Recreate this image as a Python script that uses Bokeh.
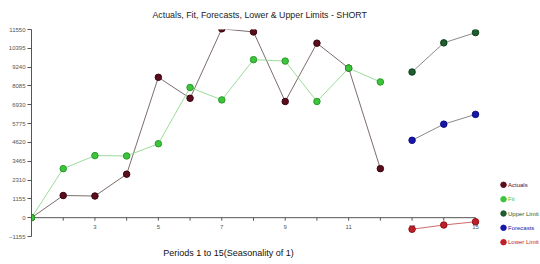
from bokeh.plotting import figure
from bokeh.models import Range1d, FixedTicker, Title
from bokeh.core.properties import value
from bokeh.embed import file_html
from bokeh.resources import INLINE

# ---- data ----
periods_actual = [1, 2, 3, 4, 5, 6, 7, 8, 9, 10, 11, 12]
actuals = [0, 1360, 1330, 2670, 8615, 7330, 11590, 11400, 7130, 10710, 9180, 3010]
fit = [0, 3010, 3810, 3790, 4540, 7990, 7230, 9700, 9610, 7130, 9180, 8330]
periods_fc = [13, 14, 15]
upper = [8940, 10730, 11360]
forecasts = [4750, 5740, 6340]
lower = [-710, -450, -250]
y_ticks = [-1155, 0, 1155, 2310, 3465, 4620, 5775, 6930, 8085, 9240, 10395, 11550]
x_ticks = list(range(1, 16))
x_labels = ["", "", "3", "", "5", "", "7", "", "9", "", "11", "", "13", "", "15"]
legend_names = ["Actuals", "Fit", "Upper Limit", "Forecasts", "Lower Limit"]

FONT = "Liberation Sans"
W, H = 540, 264
LEFT, TOP = 31, 29
PX_X = 444 / 14.0          # pixels per period
PX_Y = 207 / 12705.0       # pixels per unit value

def xd(px):  # screen x -> data
    return 1 + (px - LEFT) / PX_X

def yd(py):  # screen y -> data
    return 11550 - (py - TOP) / PX_Y

x_end = xd(W)
y_start = yd(H)

p = figure(width=W, height=H, output_backend="svg", toolbar_location=None,
           x_range=Range1d(1, x_end), y_range=Range1d(y_start, 11550),
           x_axis_type=None, min_border_left=LEFT, min_border_right=0,
           min_border_top=TOP, min_border_bottom=0)
p.outline_line_color = None
p.grid.visible = False
p.background_fill_color = "white"
p.border_fill_color = "white"

# title
p.title = Title(text="Actuals, Fit, Forecasts, Lower & Upper Limits - SHORT",
                align="left", offset=121, text_font=FONT, text_font_size="8.8px",
                text_font_style="normal", text_color="#222222", standoff=16,
                vertical_align="top")

# y axis
ya = p.yaxis[0]
ya.ticker = FixedTicker(ticks=y_ticks)
ya.bounds = (-1155, 11550)
ya.major_tick_out = 4
ya.major_tick_in = 0
ya.minor_tick_out = 0
ya.minor_tick_in = 0
ya.axis_line_color = "#555555"
ya.major_tick_line_color = "#555555"
ya.major_label_text_font = FONT
ya.major_label_text_font_size = "6px"
ya.major_label_text_color = "#555555"
ya.major_label_standoff = 2

# x axis drawn at y = 0
p.segment(x0=[1], y0=[0], x1=[15], y1=[0], line_color="#555555", line_width=1)
p.segment(x0=x_ticks[1:], y0=[0] * 14, x1=x_ticks[1:], y1=[yd(218 + 3) - yd(218)] * 14,
          line_color="#555555", line_width=1)
p.text(x=x_ticks, y=[yd(226)] * len(x_ticks), text=x_labels, text_align="center",
       text_baseline="middle", text_font=value(FONT), text_font_size="6px",
       text_color="#555555")

# x axis label
p.text(x=[xd(228)], y=[yd(252.5)], text=["Periods 1 to 15(Seasonality of 1)"],
       text_align="center", text_baseline="middle", text_font=value(FONT),
       text_font_size="9px", text_color="#111111")

# series
c_act, c_fit, c_up, c_fc, c_lo = "#5a0d1c", "#3cc43c", "#1e5e2e", "#1818a8", "#c01f28"

p.line(periods_actual, actuals, line_color="#6e5c5c", line_width=1, line_alpha=0.9)
p.line(periods_actual, fit, line_color="#8fd88f", line_width=1, line_alpha=0.9)
p.line(periods_fc, upper, line_color="#8a8a8a", line_width=1)
p.line(periods_fc, forecasts, line_color="#8a8a8a", line_width=1)
p.line(periods_fc, lower, line_color="#d06a6a", line_width=1)

MS = 6.5
p.scatter(periods_actual, actuals, size=MS, fill_color=c_act, line_color="#3a0510")
p.scatter(periods_actual, fit, size=MS, fill_color=c_fit, line_color="#2a9a2a")
p.scatter(periods_fc, upper, size=MS, fill_color=c_up, line_color="#0e3e1a")
p.scatter(periods_fc, forecasts, size=MS, fill_color=c_fc, line_color="#0a0a80")
p.scatter(periods_fc, lower, size=MS, fill_color=c_lo, line_color="#901018")

# legend
leg_colors = [c_act, c_fit, c_up, c_fc, c_lo]
leg_py = [184.3, 198.7, 213, 227.3, 241.7]
p.scatter([xd(503)] * 5, [yd(v) for v in leg_py], size=5.5, fill_color=leg_colors,
          line_color=leg_colors)
p.text(x=[xd(507.5)] * 5, y=[yd(v) for v in leg_py], text=legend_names,
       text_align="left", text_baseline="middle", text_font=value(FONT),
       text_font_size="6px", text_color=leg_colors)

open("out.html", "w").write(file_html(p, INLINE))
